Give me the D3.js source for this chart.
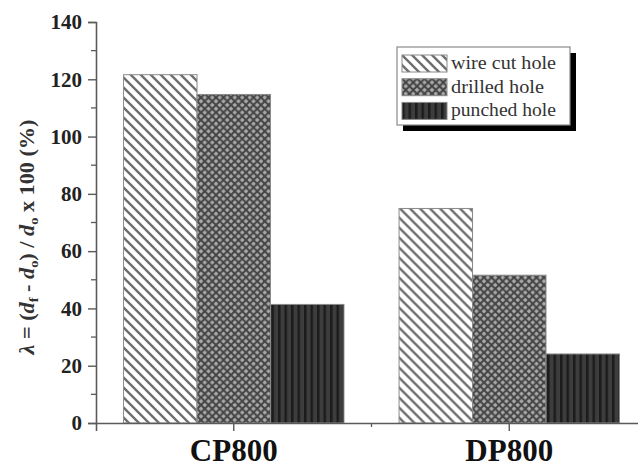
<!DOCTYPE html>
<html>
<head>
<meta charset="utf-8">
<script src="https://cdn.jsdelivr.net/npm/d3@7"></script>
<style>
  body { margin: 0; background: #fff; }
  svg { display: block; }
  text { font-family: "Liberation Serif", "Times New Roman", serif; }
</style>
</head>
<body>
<div id="chart"></div>
<script>
// data
const steels = ["CP800", "DP800"];
const holeTypes = ["wire cut hole", "drilled hole", "punched hole"];
const wireCut = [121.6, 74.9];
const drilled = [114.7, 51.6];
const punched = [41.4, 24.1];
const yTicks = [0, 20, 40, 60, 80, 100, 120, 140];

const W = 638, H = 468;
const plot = { left: 96, top: 22, bottom: 423, right: 647 };

const svg = d3.select("#chart").append("svg")
    .attr("width", W)
    .attr("height", H);

// hatch patterns
const defs = svg.append("defs");

const pWire = defs.append("pattern")
    .attr("id", "pat-wire")
    .attr("patternUnits", "userSpaceOnUse")
    .attr("width", 10).attr("height", 10);
pWire.append("rect").attr("width", 10).attr("height", 10).attr("fill", "#fff");
pWire.append("path")
    .attr("d", "M-1,-1 L11,11 M-6,4 L6,16 M4,-6 L16,6")
    .attr("stroke", "#6e6e6e").attr("stroke-width", 2.4);

const pDrill = defs.append("pattern")
    .attr("id", "pat-drill")
    .attr("patternUnits", "userSpaceOnUse")
    .attr("width", 7.5).attr("height", 7.5);
pDrill.append("rect").attr("width", 7.5).attr("height", 7.5).attr("fill", "#aaaaaa");
pDrill.append("path")
    .attr("d", "M0,0 L7.5,7.5 M7.5,0 L0,7.5")
    .attr("stroke", "#444").attr("stroke-width", 2);

const pPunch = defs.append("pattern")
    .attr("id", "pat-punch")
    .attr("patternUnits", "userSpaceOnUse")
    .attr("width", 6.5).attr("height", 10);
pPunch.append("rect").attr("width", 6.5).attr("height", 10).attr("fill", "#3d3d3d");
pPunch.append("rect").attr("x", 0).attr("width", 2.5).attr("height", 10).attr("fill", "#1c1c1c");

const fills = ["url(#pat-wire)", "url(#pat-drill)", "url(#pat-punch)"];
const seriesValues = [wireCut, drilled, punched];
const legendTextWidths = [105, 93, 105];

// scales
const x = d3.scaleBand()
    .domain(steels)
    .range([plot.left, plot.right])
    .paddingInner(0)
    .paddingOuter(0);

const groupPad = 0.1;
const xInner = d3.scaleBand()
    .domain(holeTypes)
    .range([x.bandwidth() * groupPad, x.bandwidth() * (1 - groupPad)]);

const y = d3.scaleLinear()
    .domain([0, 140])
    .range([plot.bottom, plot.top]);

// bars
const rows = steels.map((s, i) => ({
    steel: s,
    values: holeTypes.map((h, j) => ({ type: h, j: j, value: seriesValues[j][i] }))
}));

const groups = svg.selectAll(".group")
    .data(rows)
    .enter()
    .append("g")
    .attr("class", "group")
    .attr("transform", d => `translate(${x(d.steel)},0)`);

groups.selectAll("rect")
    .data(d => d.values)
    .enter()
    .append("rect")
    .attr("x", d => xInner(d.type))
    .attr("y", d => y(d.value))
    .attr("width", xInner.bandwidth())
    .attr("height", d => y(0) - y(d.value))
    .attr("fill", d => fills[d.j])
    .attr("stroke", "#8a8a8a")
    .attr("stroke-width", 1);

// axes
const axisColor = "#5a5a5a";

const yAxis = svg.append("g")
    .attr("transform", `translate(${plot.left},0)`)
    .call(d3.axisLeft(y).tickValues(yTicks).tickSize(8).tickPadding(6));
yAxis.select(".domain").attr("stroke", axisColor).attr("stroke-width", 1.6);
yAxis.selectAll(".tick line").attr("stroke", axisColor).attr("stroke-width", 1.4);
yAxis.selectAll(".tick text")
    .attr("fill", "#222")
    .attr("font-size", 21)
    .attr("font-weight", "bold")
    .attr("font-family", "Liberation Serif, serif");

// minor y ticks
svg.append("g")
    .selectAll("line")
    .data(d3.range(10, 140, 20))
    .enter()
    .append("line")
    .attr("x1", plot.left - 5).attr("x2", plot.left)
    .attr("y1", d => y(d)).attr("y2", d => y(d))
    .attr("stroke", axisColor).attr("stroke-width", 1.3);

const xAxis = svg.append("g")
    .attr("transform", `translate(0,${plot.bottom})`)
    .call(d3.axisBottom(x).tickSize(8).tickPadding(10));
xAxis.select(".domain").attr("stroke", axisColor).attr("stroke-width", 1.6);
xAxis.selectAll(".tick line").attr("stroke", axisColor).attr("stroke-width", 1.4);
xAxis.selectAll(".tick text")
    .attr("y", 38)
    .attr("dy", null)
    .attr("fill", "#111")
    .attr("font-size", 31)
    .attr("font-weight", "bold")
    .attr("font-family", "Liberation Serif, serif");

// minor x tick between groups
svg.append("line")
    .attr("x1", x("DP800")).attr("x2", x("DP800"))
    .attr("y1", plot.bottom).attr("y2", plot.bottom + 4)
    .attr("stroke", axisColor).attr("stroke-width", 1.3);

// y axis title
const yTitle = svg.append("text")
    .attr("transform", "translate(34,237) rotate(-90)")
    .attr("text-anchor", "middle")
    .attr("font-size", 20)
    .attr("font-weight", "bold")
    .attr("textLength", 235)
    .attr("lengthAdjust", "spacingAndGlyphs")
    .attr("fill", "#333");
yTitle.append("tspan").attr("font-style", "italic").text("λ");
yTitle.append("tspan").text(" = (");
yTitle.append("tspan").attr("font-style", "italic").text("d");
yTitle.append("tspan").attr("font-size", 13).attr("dy", 4).text("f");
yTitle.append("tspan").attr("dy", -4).text(" - ");
yTitle.append("tspan").attr("font-style", "italic").text("d");
yTitle.append("tspan").attr("font-size", 13).attr("dy", 4).text("o");
yTitle.append("tspan").attr("dy", -4).text(") / ");
yTitle.append("tspan").attr("font-style", "italic").text("d");
yTitle.append("tspan").attr("font-size", 13).attr("dy", 4).text("o");
yTitle.append("tspan").attr("dy", -4).text(" x 100 (%)");

// legend
const lg = { x: 397, y: 47, w: 173, h: 78 };
const legend = svg.append("g").attr("transform", `translate(${lg.x},${lg.y})`);
legend.append("rect")
    .attr("x", 6).attr("y", 6)
    .attr("width", lg.w).attr("height", lg.h)
    .attr("fill", "#000");
legend.append("rect")
    .attr("width", lg.w).attr("height", lg.h)
    .attr("fill", "#fff")
    .attr("stroke", "#8a8a8a").attr("stroke-width", 1.2);

const items = legend.selectAll(".item")
    .data(holeTypes)
    .enter()
    .append("g")
    .attr("class", "item")
    .attr("transform", (d, i) => `translate(5,${8 + i * 23.7})`);
items.append("rect")
    .attr("width", 45).attr("height", 17)
    .attr("fill", (d, i) => fills[i])
    .attr("stroke", "#8a8a8a").attr("stroke-width", 1);
items.append("text")
    .attr("x", 49).attr("y", 14)
    .attr("font-size", 19)
    .attr("textLength", (d, i) => legendTextWidths[i])
    .attr("lengthAdjust", "spacingAndGlyphs")
    .attr("fill", "#333")
    .text(d => d);
</script>
</body>
</html>
